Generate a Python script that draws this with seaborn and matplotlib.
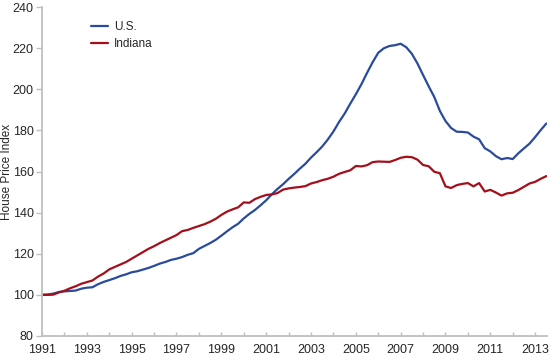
# House price index: U.S. vs Indiana, quarterly, 1991 Q1 = 100
import numpy as np
import pandas as pd
import matplotlib
matplotlib.use('Agg')
import matplotlib.pyplot as plt
import seaborn as sns

# quarterly values, 1991.00 ... 2013.50
us = [
    100.0, 100.2, 100.6, 101.4,   # 1991
    101.7, 101.9, 102.1, 103.0,   # 1992
    103.5, 103.7, 105.2, 106.3,   # 1993
    107.2, 108.1, 109.2, 110.0,   # 1994
    111.0, 111.5, 112.3, 113.1,   # 1995
    114.1, 115.2, 116.0, 117.0,   # 1996
    117.6, 118.4, 119.5, 120.3,   # 1997
    122.4, 123.8, 125.2, 126.8,   # 1998
    128.8, 130.9, 132.9, 134.6,   # 1999
    137.2, 139.4, 141.3, 143.6,   # 2000
    146.0, 148.9, 151.5, 153.8,   # 2001
    156.4, 158.8, 161.4, 163.8,   # 2002
    166.8, 169.4, 172.2, 175.6,   # 2003
    179.5, 184.1, 188.2, 193.0,   # 2004
    197.6, 202.5, 208.0, 213.2,   # 2005
    217.8, 220.0, 221.1, 221.5,   # 2006
    222.2, 220.5, 217.3, 212.6,   # 2007
    207.0, 201.5, 196.3, 189.5,   # 2008
    184.6, 181.2, 179.4, 179.3,   # 2009
    179.0, 177.0, 175.7, 171.4,   # 2010
    169.8, 167.5, 166.0, 166.6,   # 2011
    166.1, 168.9, 171.3, 173.6,   # 2012
    176.8, 180.2, 183.4,          # 2013
]
indiana = [
    100.0, 100.0, 100.1, 101.2,
    102.0, 103.2, 104.2, 105.4,
    106.2, 107.0, 108.9, 110.4,
    112.4, 113.6, 114.8, 116.0,
    117.6, 119.2, 120.8, 122.4,
    123.7, 125.2, 126.5, 127.8,
    129.1, 131.0, 131.6, 132.6,
    133.5, 134.4, 135.6, 137.0,
    138.9, 140.5, 141.6, 142.6,
    145.0, 144.8, 146.6, 147.7,
    148.6, 148.9, 149.5, 151.2,
    151.8, 152.2, 152.5, 152.9,
    154.2, 154.9, 155.8, 156.5,
    157.5, 158.9, 159.8, 160.6,
    162.7, 162.5, 163.1, 164.6,
    164.9, 164.8, 164.7, 165.6,
    166.7, 167.2, 167.0, 165.8,
    163.2, 162.6, 159.9, 159.2,
    152.8, 152.0, 153.4, 154.0,
    154.4, 152.8, 154.4, 150.3,
    151.1, 149.8, 148.3, 149.4,
    149.7, 151.0, 152.6, 154.2,
    155.0, 156.5, 157.8,
]
quarters = 1991 + np.arange(len(us)) / 4
year_labels = list(range(1991, 2014, 2))
y_ticks = list(range(80, 241, 20))

df = pd.DataFrame({
    'time': np.concatenate([quarters, quarters]),
    'index': us + indiana,
    'region': ['U.S.'] * len(us) + ['Indiana'] * len(indiana),
})

sns.set_style('white')
plt.rcParams['font.family'] = ['Liberation Sans', 'DejaVu Sans']

fig = plt.figure(figsize=(5.49, 3.58), dpi=100)
ax = fig.add_axes([0.0765, 0.0615, 0.9195, 0.9185])

sns.lineplot(data=df, x='time', y='index', hue='region',
             palette={'U.S.': '#2A4B9C', 'Indiana': '#A30F1A'},
             linewidth=1.6, ax=ax)

ax.set_xlim(1991, 2013.52)
ax.set_ylim(80, 240)
ax.set_xticks(year_labels)
ax.set_xticklabels([str(y) for y in year_labels])
ax.set_xticks(range(1992, 2014, 2), minor=True)
ax.set_yticks(y_ticks)

ax.set_xlabel('')
ax.set_ylabel('House Price Index', fontsize=8.5)
ax.yaxis.set_label_coords(-0.057, 0.5)

for side in ['top', 'right']:
    ax.spines[side].set_visible(False)
for side in ['left', 'bottom']:
    ax.spines[side].set_color('#bfbfbf')
    ax.spines[side].set_linewidth(1.3)

ax.tick_params(axis='y', which='both', direction='out', length=4, width=1,
               color='#bfbfbf', labelsize=9, pad=2, left=True)
ax.tick_params(axis='x', which='both', direction='in', length=3, width=1,
               color='#bfbfbf', labelsize=9, pad=6, bottom=True)

leg = ax.legend(loc='upper left', bbox_to_anchor=(0.076, 0.99), frameon=False,
                fontsize=8.5, handlelength=1.45, handletextpad=0.5,
                labelspacing=0.4)

fig.savefig('out.png', dpi=100)
